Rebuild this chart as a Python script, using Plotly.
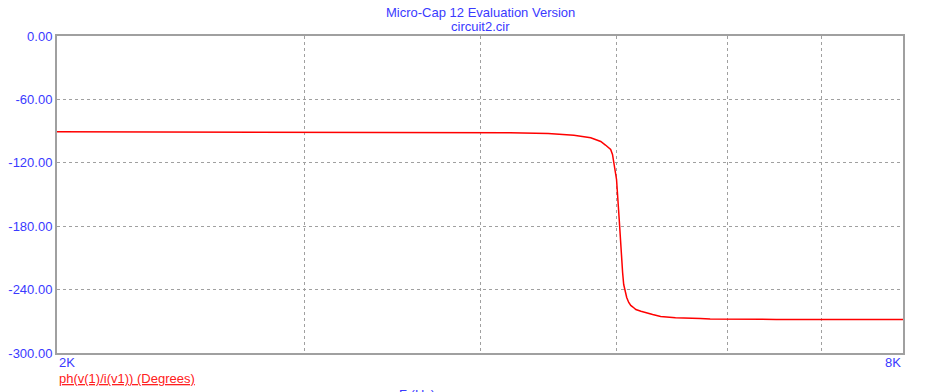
import math
import plotly.graph_objects as go

# Frequency (Hz) and phase (degrees)
freq_hz = [2000, 2500, 3000, 3400, 3951, 4200, 4473, 4665, 4796, 4836, 4875, 4913, 4955, 4970,
           4979, 5003, 5025, 5036, 5053, 5062, 5070, 5087, 5104, 5121, 5139, 5164, 5207, 5250,
           5308, 5378, 5510, 5740, 5832, 6500, 7000, 8000]
phase_deg = [-90.7, -90.8, -90.9, -91.0, -91.2, -91.6, -92.3, -93.9, -96.3, -97.9, -99.8, -103.2, -107.4, -112.1,
             -118.5, -135.8, -173.7, -198.9, -223.8, -235.2, -239.9, -247.5, -252.2, -255.0, -256.5, -258.8, -260.4, -262.0,
             -263.6, -265.4, -266.7, -267.4, -267.9, -268.2, -268.3, -268.4]

y_ticks = [0, -60, -120, -180, -240, -300]
x_grid = [3000, 4000, 5000, 6000, 7000]
x_tick_values = [2000, 8000]
x_tick_labels = ["2K", "8K"]

title_lines = ["Micro-Cap 12 Evaluation Version", "circuit2.cir"]
trace_label = "ph(v(1)/i(v1)) (Degrees)"
x_title = "F (Hz)"

BLUE = "#3a3aff"
GRID = "#a0a0a0"
FONT = "Liberation Sans, Arial, sans-serif"
FS = 13

W, H = 935, 392
ML, MR, MT, MB = 57, 32, 36, 39

fig = go.Figure()
fig.add_trace(go.Scatter(x=freq_hz, y=phase_deg, mode="lines",
                         line=dict(color="#ff0000", width=1.5),
                         showlegend=False, hoverinfo="skip"))

fig.update_layout(
    width=W, height=H,
    margin=dict(l=ML, r=MR, t=MT, b=MB, autoexpand=False),
    paper_bgcolor="white", plot_bgcolor="white",
    font=dict(family=FONT, size=FS, color=BLUE),
    showlegend=False,
)
fig.update_xaxes(type="log", range=[math.log10(2000), math.log10(8000)],
                 tickvals=x_grid, showticklabels=False, ticks="",
                 showgrid=True, gridcolor=GRID, griddash="3px,3px", gridwidth=1,
                 showline=True, linecolor=GRID, linewidth=2, mirror=True, zeroline=False)
fig.update_yaxes(range=[-300, 0], tickvals=y_ticks,
                 ticktext=[f"{v:.2f}" for v in y_ticks],
                 tickfont=dict(color=BLUE, size=FS, family=FONT), ticks="",
                 ticklabelstandoff=0,
                 showgrid=True, gridcolor=GRID, griddash="3px,3px", gridwidth=1,
                 showline=True, linecolor=GRID, linewidth=2, mirror=True, zeroline=False)

ph = H - MT - MB
pw = W - ML - MR


def ypaper(px):
    return (H - MB - px) / ph


def xpaper(px):
    return (px - ML) / pw


fig.add_annotation(text=title_lines[0], x=0.5, y=ypaper(12), xref="paper", yref="paper",
                   showarrow=False, yanchor="middle", font=dict(color=BLUE, size=FS))
fig.add_annotation(text=title_lines[1], x=0.5, y=ypaper(27), xref="paper", yref="paper",
                   showarrow=False, yanchor="middle", font=dict(color=BLUE, size=FS))
for i, (fx, lab) in enumerate(zip(x_tick_values, x_tick_labels)):
    fig.add_annotation(text=lab, x=math.log10(fx), xref="x", y=ypaper(362), yref="paper",
                       showarrow=False, xanchor="left" if i == 0 else "right", yanchor="middle",
                       font=dict(color=BLUE, size=FS))
fig.add_annotation(text="<u>" + trace_label + "</u>", x=0, xref="paper", y=ypaper(378), yref="paper",
                   showarrow=False, xanchor="left", yanchor="middle",
                   font=dict(color="#ff2020", size=FS))
fig.add_annotation(text=x_title, x=xpaper(397), xref="paper", y=ypaper(394), yref="paper",
                   showarrow=False, xanchor="left", yanchor="middle",
                   font=dict(color=BLUE, size=FS))

fig.write_html("out.html", config={"displayModeBar": False},
               post_script="document.body.style.margin='0px';")
